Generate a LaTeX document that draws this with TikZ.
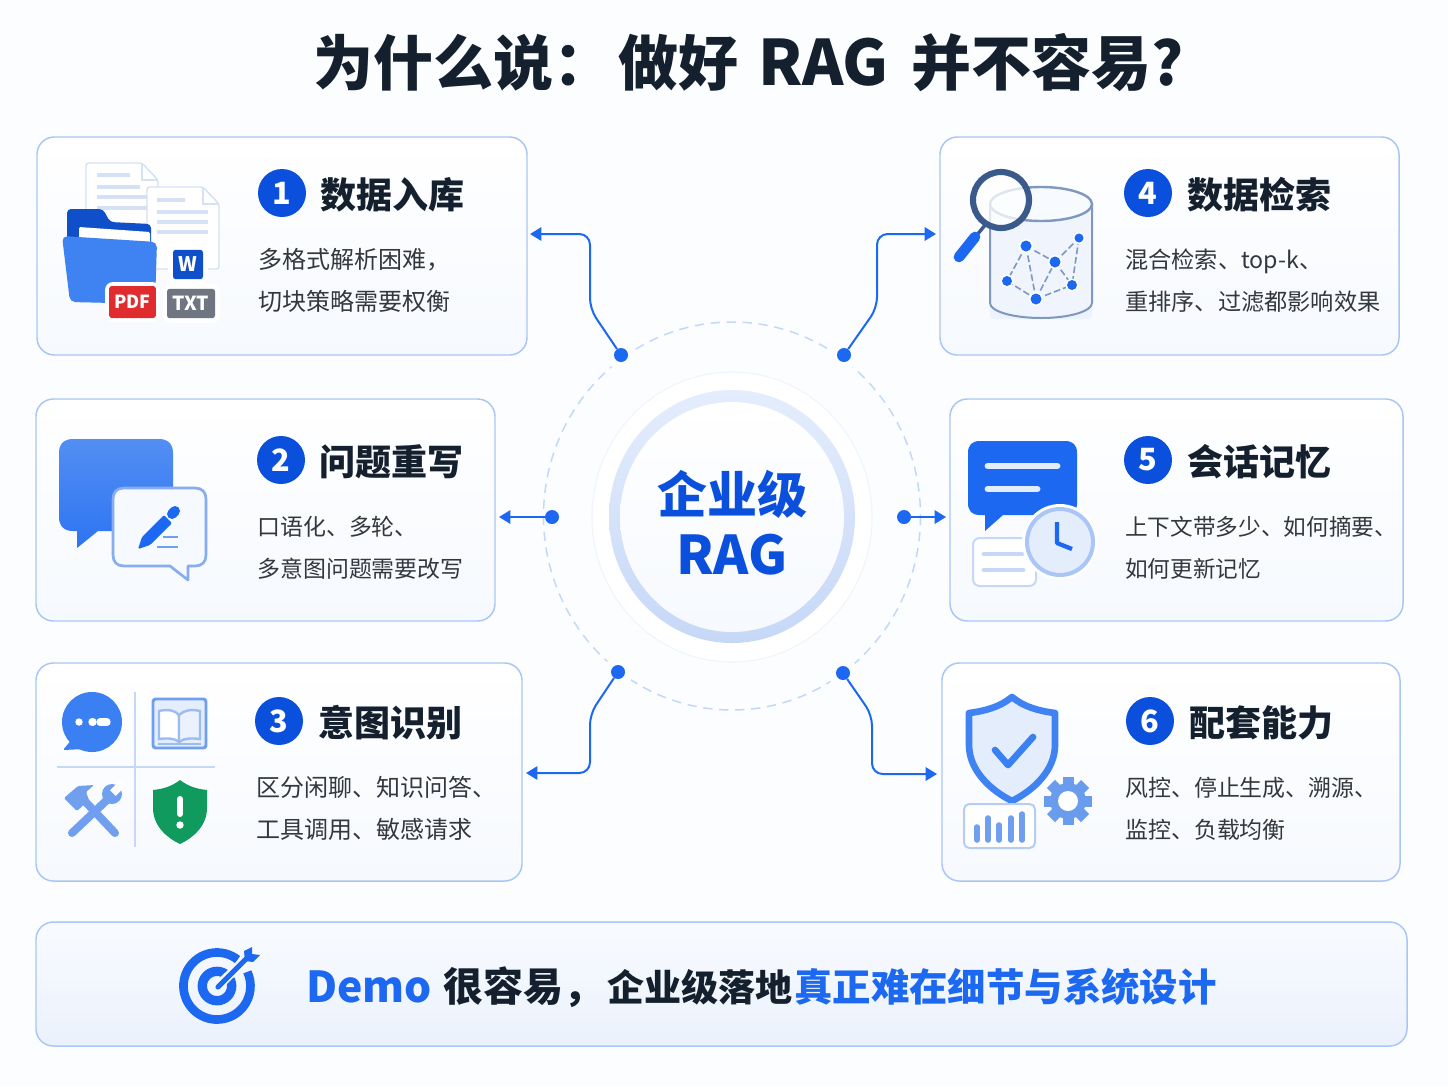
\documentclass[tikz,border=0pt]{standalone}
\usepackage{fontspec}
\setmainfont{Noto Sans CJK SC}
\usetikzlibrary{arrows.meta,shapes.geometric}
\definecolor{pagebg}{HTML}{FCFDFF}
\definecolor{cardline}{HTML}{A9C6F6}
\definecolor{cardlow}{HTML}{F6F9FE}
\definecolor{ink}{HTML}{14202E}
\definecolor{bodyink}{HTML}{33383F}
\definecolor{numblue}{HTML}{0B50DC}
\definecolor{linkblue}{HTML}{1C68F0}
\definecolor{midblue}{HTML}{3F82F2}
\definecolor{softblue}{HTML}{6F9FEE}
\definecolor{paleblue}{HTML}{C6D8F7}
\definecolor{iceblue}{HTML}{E4EDFC}
\definecolor{deepblue}{HTML}{0F4FC9}
\definecolor{docline}{HTML}{D5E1F4}
\definecolor{pdfred}{HTML}{E02B2F}
\definecolor{txtgray}{HTML}{6F7682}
\definecolor{guardgreen}{HTML}{109A5E}
\definecolor{steel}{HTML}{7F98C0}
\definecolor{lensblue}{HTML}{3A5A8C}
\tikzset{
  cardbox/.style 2 args={draw=cardline,line width=1.1pt,rounded corners=13pt,top color=white,bottom color=cardlow,minimum width=#1*0.75pt,minimum height=#2*0.75pt,inner sep=0pt},
  headtext/.style={anchor=base west,inner sep=0pt,font=\fontsize{27pt}{30pt}\selectfont\bfseries,text=ink},
  bodytext/.style={anchor=base west,inner sep=0pt,font=\fontsize{#1}{20pt}\selectfont,text=bodyink},
  bodytext/.default=18pt,
  numdisc/.style={circle,fill=numblue,text=white,minimum size=36pt,inner sep=0pt,font=\fontsize{23pt}{24pt}\selectfont\bfseries},
  hubdot/.style={circle,fill=linkblue,minimum size=10.5pt,inner sep=0pt},
  conn/.style={draw=linkblue,line width=1.5pt,rounded corners=8pt,-{Triangle[length=8.5pt,width=10pt]}},
  badge/.style={inner sep=0pt,text=white,font=\bfseries},
  titletext/.style={anchor=base west,inner sep=0pt,font=\fontsize{45pt}{50pt}\selectfont\bfseries,text=ink},
  bannertext/.style={anchor=base west,inner sep=0pt,font=\fontsize{#1}{36pt}\selectfont\bfseries},
}
\begin{document}
\begin{tikzpicture}[x=0.75pt,y=-0.75pt]
\path[use as bounding box,fill=pagebg] (0,0) rectangle (1448,1086);

% title
\node[titletext] (title0) at (313,85) {为什么说：};
\node[titletext] (title1) at (618,85) {做好};
\node[titletext,font=\fontsize{47pt}{50pt}\selectfont\bfseries] (title2) at (758,85) {RAG};
\node[titletext] (title3) at (911,85) {并不容易?};

% cards
\node[cardbox={490}{218}] (card1) at (282,246) {};
\node[cardbox={459}{222}] (card2) at (265.5,510) {};
\node[cardbox={486}{218}] (card3) at (279,772) {};
\node[cardbox={459}{218}] (card4) at (1169.5,246) {};
\node[cardbox={453}{222}] (card5) at (1176.5,510) {};
\node[cardbox={458}{218}] (card6) at (1171,772) {};
\node[cardbox={1371}{124},top color=cardlow!70!white,bottom color=iceblue!75!white,draw=cardline] (banner) at (721.5,984) {};

% card text
\node[numdisc] (n1) at (282,193) {1};
\node[headtext] (h1) at (320,208) {数据入库};
\node[bodytext] (b1a) at (258,268) {多格式解析困难，};
\node[bodytext] (b1b) at (258,310) {切块策略需要权衡};
\node[numdisc] (n2) at (281,460) {2};
\node[headtext] (h2) at (319,475) {问题重写};
\node[bodytext=17.2pt] (b2a) at (257,535) {口语化、多轮、};
\node[bodytext=17.2pt] (b2b) at (257,577) {多意图问题需要改写};
\node[numdisc] (n3) at (279,721) {3};
\node[headtext] (h3) at (318,736) {意图识别};
\node[bodytext] (b3a) at (256,796) {区分闲聊、知识问答、};
\node[bodytext] (b3b) at (256,838) {工具调用、敏感请求};
\node[numdisc] (n4) at (1148,193) {4};
\node[headtext] (h4) at (1187,208) {数据检索};
\node[bodytext=17.4pt] (b4a) at (1125,268) {混合检索、top-k、};
\node[bodytext=17.4pt] (b4b) at (1125,310) {重排序、过滤都影响效果};
\node[numdisc] (n5) at (1148,460) {5};
\node[headtext] (h5) at (1187,475) {会话记忆};
\node[bodytext=17pt] (b5a) at (1125,535) {上下文带多少、如何摘要、};
\node[bodytext=17pt] (b5b) at (1125,577) {如何更新记忆};
\node[numdisc] (n6) at (1150,721) {6};
\node[headtext] (h6) at (1189,736) {配套能力};
\node[bodytext=17.2pt] (b6a) at (1125,796) {风控、停止生成、溯源、};
\node[bodytext=17.2pt] (b6b) at (1125,838) {监控、负载均衡};

% hub
\coordinate (p1) at (621,355); \coordinate (p2) at (552,517); \coordinate (p3) at (618,672);
\coordinate (p4) at (844,355); \coordinate (p5) at (904,517); \coordinate (p6) at (843,673);
\draw[draw=cardline!70!white,line width=1.1pt,dash pattern=on 7pt off 5pt] (732,516) ellipse (188.5 and 194);
\foreach \halo in {p1,p3,p4,p6} \fill[pagebg] (\halo) circle (15);
\fill[fill=white,draw=iceblue!60!white,line width=0.8pt] (732,517) ellipse (140 and 145);
\shade[top color=iceblue,bottom color=paleblue] (732,516.5) ellipse (123 and 126.5);
\shade[top color=white,bottom color=cardlow] (732,517) ellipse (112 and 115);
\node[inner sep=0pt,font=\fontsize{37.5pt}{40pt}\selectfont\bfseries,text=numblue] (core1) at (732,494) {企业级};
\node[inner sep=0pt,font=\fontsize{40pt}{42pt}\selectfont\bfseries,text=numblue] (core2) at (732,555) {RAG};

% connectors
\node[hubdot] (d1) at (p1) {};
\node[hubdot] (d2) at (p2) {};
\node[hubdot] (d3) at (p3) {};
\node[hubdot] (d4) at (p4) {};
\node[hubdot] (d5) at (p5) {};
\node[hubdot] (d6) at (p6) {};
\coordinate (k1a) at (590,309); \coordinate (k1b) at (590,234); \coordinate (e1) at (530,234);
\coordinate (e2) at (499,517);
\coordinate (k3a) at (590,714); \coordinate (k3b) at (590,773); \coordinate (e3) at (526,773);
\coordinate (k4a) at (877,308); \coordinate (k4b) at (877,234); \coordinate (e4) at (936,234);
\coordinate (e5) at (946,517);
\coordinate (k6a) at (872,715); \coordinate (k6b) at (872,774); \coordinate (e6) at (937,774);
\draw[conn] (d1) -- (k1a) -- (k1b) -- (e1);
\draw[conn] (d2) -- (e2);
\draw[conn] (d3) -- (k3a) -- (k3b) -- (e3);
\draw[conn] (d4) -- (k4a) -- (k4b) -- (e4);
\draw[conn] (d5) -- (e5);
\draw[conn] (d6) -- (k6a) -- (k6b) -- (e6);

% icon 1: documents, folder, badges
\draw[docline,fill=white,line width=1.1pt,rounded corners=2pt] (86,163) -- (142,163) -- (158,180) -- (158,245) -- (86,245) -- cycle;
\draw[docline,line width=1.1pt] (142,163) -- (142,180) -- (158,180);
\foreach \ya/\xb in {175/130,187/140,197/150,208/150} \draw[docline,line width=2.6pt] (97,\ya) -- (\xb,\ya);
\draw[docline,fill=white,line width=1.1pt,rounded corners=2pt] (147,187) -- (203,187) -- (219,204) -- (219,269) -- (147,269) -- cycle;
\draw[docline,line width=1.1pt] (203,187) -- (203,204) -- (219,204);
\foreach \ya/\xb in {200/185,212/208,222/208,232/208} \draw[docline,line width=2.6pt] (157,\ya) -- (\xb,\ya);
\fill[deepblue,rounded corners=3pt] (67,240) -- (67,209) -- (103,209) -- (110,222) -- (151,224) -- (151,245) -- cycle;
\fill[white,rounded corners=1pt] (79,240) -- (79,227) -- (150,232) -- (150,245) -- cycle;
\fill[midblue,rounded corners=4pt] (62,236) -- (157,242) -- (155,304) -- (70,302) -- cycle;
\fill[white,rounded corners=5pt] (168,244) rectangle (208,284);
\fill[white,rounded corners=6pt] (105,282) rectangle (160,322);
\fill[white,rounded corners=6pt] (163,284) rectangle (220,323);
\node[badge,fill=deepblue,rounded corners=2pt,minimum width=22.5pt,minimum height=22pt,font=\fontsize{15pt}{16pt}\selectfont\bfseries] (wbadge) at (188,264.5) {W};
\node[badge,fill=pdfred,rounded corners=2pt,minimum width=35pt,minimum height=24pt,font=\fontsize{13.5pt}{14pt}\selectfont\bfseries] (pdfbadge) at (132.5,302) {PDF};
\node[badge,fill=txtgray,rounded corners=2pt,minimum width=36pt,minimum height=22pt,font=\fontsize{14.5pt}{15pt}\selectfont\bfseries] (txtbadge) at (191,303.5) {TXT};

% icon 2: chat bubbles and pen
\shade[top color=midblue!90!white,bottom color=linkblue!92!white] (77,548) -- (77,531) -- (73,531) .. controls (64,531) and (59,526) .. (59,517) -- (59,453) .. controls (59,444) and (64,439) .. (73,439) -- (159,439) .. controls (168,439) and (173,444) .. (173,453) -- (173,517) .. controls (173,526) and (168,531) .. (159,531) -- (98,531) -- cycle;
\draw[softblue!85!white,fill=cardlow,line width=2pt,line join=round] (170,566) -- (188,580) -- (188,566) -- (195,566) .. controls (202,566) and (206,562) .. (206,555) -- (206,499) .. controls (206,492) and (202,488) .. (195,488) -- (124,488) .. controls (117,488) and (113,492) .. (113,499) -- (113,555) .. controls (113,562) and (117,566) .. (124,566) -- cycle;
\fill[linkblue,rounded corners=1pt] (138,549) -- (142,537) -- (164,515) -- (172,523) -- (150,545) -- cycle;
\draw[linkblue,line width=7.5pt,line cap=round] (172,514) -- (175,511);
\draw[softblue,line width=2pt] (163,537) -- (178,537) (157,547) -- (178,547);

% icon 3: four small icons
\draw[paleblue,line width=1.6pt] (135,692) -- (135,847) (57,767) -- (215,767);
\fill[midblue!90!linkblue] (92,722) circle (30);
\fill[midblue!90!linkblue,rounded corners=1pt] (73,738) -- (63,750) -- (85,749) -- cycle;
\fill[white] (79,722) circle (3.7);
\draw[white,line width=5.5pt,line cap=round] (92,722) -- (93,722);
\draw[white,line width=5.5pt,line cap=round] (100,722) -- (107,722);
\draw[softblue,fill=iceblue,line width=2.2pt,rounded corners=2pt] (153,699) rectangle (206,748);
\draw[softblue!70!white,fill=white,line width=1.8pt] (159,711) .. controls (167,709) and (175,710) .. (179,715) -- (179,742) .. controls (175,738) and (167,738) .. (159,739) -- cycle;
\draw[softblue!70!white,fill=iceblue!70!white,line width=1.8pt] (200,711) .. controls (192,709) and (184,710) .. (179,715) -- (179,742) .. controls (184,738) and (192,738) .. (200,739) -- cycle;
\draw[softblue!70!white,line width=2pt] (158,744) -- (201,744);
\draw[softblue,line width=6pt,line cap=round] (115,833) -- (80,796);
\fill[softblue,rounded corners=1pt] (64,798) -- (78,786) -- (94,785) -- (86,792) -- (89,800) -- (77,811) -- cycle;
\draw[softblue,line width=6pt,line cap=round] (72,833) -- (108,799);
\fill[softblue] (112,794) circle (10);
\draw[white,line width=6pt] (113,793) -- (124,782);
\fill[guardgreen] (180,780) .. controls (171,787) and (162,789) .. (153,790) -- (153,808) .. controls (153,826) and (167,838) .. (180,844) .. controls (193,838) and (207,826) .. (207,808) -- (207,790) .. controls (198,789) and (189,787) .. (180,780) -- cycle;
\draw[white,line width=4.5pt,line cap=round] (180,799) -- (180,814);
\fill[white] (180,825) circle (3.7);

% icon 4: database with graph and lens
\fill[iceblue!70!white,rounded corners=3pt] (990,300) -- (990,319) -- (1092,319) -- (1092,300) -- cycle;
\draw[steel,fill=iceblue!60!white,line width=1.5pt] (990,204) -- (990,303) arc[start angle=180,end angle=0,x radius=51,y radius=15] -- (1092,204);
\draw[steel,fill=white!70!iceblue,line width=1.8pt] (1041,204) ellipse (51 and 17);
\coordinate (g1) at (1026,246); \coordinate (g2) at (1055,262); \coordinate (g3) at (1079,238);
\coordinate (g4) at (1072,285); \coordinate (g5) at (1036,299); \coordinate (g6) at (1007,281);
\draw[steel,line width=1.2pt,dash pattern=on 5pt off 2.2pt] (g1) -- (g2) (g2) -- (g3) (g3) -- (g4) (g2) -- (g4) (g1) -- (g5) (g1) -- (g6) (g6) -- (g5) (g5) -- (g2) (g5) -- (g4);
\foreach \pt/\rr in {g1/5.5,g2/5.5,g3/4.5,g4/5,g5/5.5,g6/5} {
  \fill[white] (\pt) circle (\rr+1.5);
  \fill[linkblue] (\pt) circle (\rr);
}
\draw[lensblue,line width=2.6pt] (986,224) -- (976,236);
\fill[white,opacity=.75] (1001,200) circle (28);
\draw[lensblue,line width=4.6pt] (1001,200) circle (28);
\draw[linkblue,line width=8pt,line cap=round] (975,237) -- (959,257);

% icon 5: chat bubble, note and clock
\fill[linkblue] (985,531) -- (985,515) -- (980,515) .. controls (972,515) and (968,511) .. (968,503) -- (968,453) .. controls (968,445) and (972,441) .. (980,441) -- (1065,441) .. controls (1073,441) and (1077,445) .. (1077,453) -- (1077,503) .. controls (1077,511) and (1073,515) .. (1065,515) -- (1003,515) -- cycle;
\draw[iceblue,line width=5.2pt,line cap=round] (988,466) -- (1057,466) (988,489) -- (1037,489);
\draw[paleblue,fill=white,line width=1.5pt,rounded corners=5pt] (973,538) rectangle (1036,586);
\draw[paleblue,line width=3.6pt,line cap=round] (984,554) -- (1022,554) (984,570) -- (1023,570);
\fill[white] (1060,542) circle (38);
\draw[cardline,fill=iceblue,line width=3pt] (1060,542) circle (33);
\draw[linkblue,line width=3.2pt,line join=round] (1057,522) -- (1057,543) -- (1072,549);

% icon 6: shield, gear and chart
\draw[midblue,fill=iceblue,line width=5pt,line join=round] (1012,697) .. controls (1000,707) and (985,711) .. (969,713) -- (969,745) .. controls (969,770) and (990,790) .. (1012,801) .. controls (1034,790) and (1055,770) .. (1055,745) -- (1055,713) .. controls (1039,711) and (1024,707) .. (1012,697) -- cycle;
\draw[midblue!90!linkblue,line width=5pt,line cap=round,line join=round] (995,750) -- (1008,765) -- (1033,737);
\foreach \ang in {0,45,...,315} {
  \fill[softblue!90!midblue,rotate around={\ang:(1068,801)}] (1062.5,777) rectangle (1073.5,825);
}
\fill[softblue!90!midblue] (1068,801) circle (18);
\fill[white] (1068,801) circle (10);
\draw[paleblue!80!softblue,fill=white,line width=1.5pt,rounded corners=4pt] (964,804) rectangle (1035,848);
\foreach \bx/\by in {977/827,988/818,999/825,1011/818,1022/814} \draw[softblue,line width=4.2pt,line cap=round] (\bx,\by) -- (\bx,840);

% banner icon
\draw[linkblue,line width=6.5pt] (237.6,959.6) arc[start angle=-52,end angle=-385,radius=33.5];
\draw[linkblue,line width=7pt] (217,986) circle (14.7);
\draw[iceblue!30!white,line width=7pt] (219,985) -- (248,957);
\draw[linkblue,line width=3.8pt,line cap=round] (218,987) -- (248,957);
\fill[linkblue] (244,951) -- (252,947) -- (252,954) -- (260,955) -- (253,962) -- (245,961) -- cycle;

% banner text
\node[bannertext=32pt,text=linkblue] (bdemo) at (306,1002) {Demo};
\node[bannertext=30pt,text=ink] (bmid) at (443,1001) {很容易，};
\node[bannertext=27.8pt,text=ink] (bmid2) at (607,1001) {企业级落地};
\node[bannertext=28.8pt,text=linkblue] (bend) at (794,1001) {真正难在细节与系统设计};
\end{tikzpicture}
\end{document}
